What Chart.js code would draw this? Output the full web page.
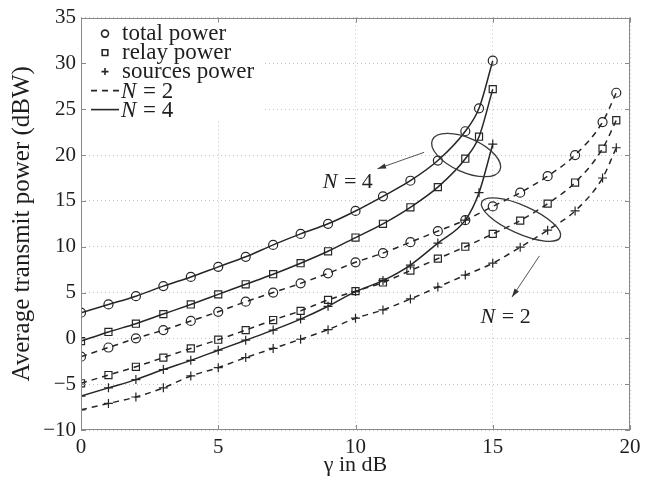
<!DOCTYPE html>
<html>
<head>
<meta charset="utf-8">
<script src="https://cdn.jsdelivr.net/npm/chart.js@4.4.1/dist/chart.umd.min.js"></script>
<style>
    html, body { margin: 0; padding: 0; background: #fff; }
    #wrap { width: 656px; height: 479px; }
</style>
</head>
<body>
<div id="wrap"><canvas id="powerChart" width="656" height="479"></canvas></div>
<script>
// -------------------------------------------------------------------------- Data

const gammaN4 = [0, 1, 2, 3, 4, 5, 6, 7, 8, 9, 10, 11, 12, 13, 14, 14.5, 15]
const totalN4 = [2.8, 3.7, 4.6, 5.7, 6.7, 7.8, 8.9, 10.2, 11.4, 12.5, 13.9, 15.5, 17.2, 19.4, 22.6, 25.1, 30.3]
const relayN4 = [-0.3, 0.7, 1.6, 2.65, 3.7, 4.8, 5.9, 7.0, 8.2, 9.5, 11.0, 12.5, 14.3, 16.5, 19.6, 22.0, 27.2]
const sourcesN4 = [-6.3, -5.4, -4.5, -3.4, -2.4, -1.3, -0.2, 0.9, 2.1, 3.5, 5.1, 6.3, 8.0, 10.4, 12.9, 15.9, 21.2]

const gammaN2 = [0, 1, 2, 3, 4, 5, 6, 7, 8, 9, 10, 11, 12, 13, 14, 15, 16, 17, 18, 19, 19.5]
const totalN2 = [-2.0, -1.0, 0.0, 0.9, 1.9, 2.9, 4.0, 5.0, 6.0, 7.1, 8.3, 9.3, 10.5, 11.7, 12.9, 14.4, 15.9, 17.7, 20.0, 23.6, 26.8]
const relayN2 = [-4.9, -4.0, -3.1, -2.1, -1.1, -0.15, 0.9, 2.0, 3.0, 4.2, 5.15, 6.1, 7.4, 8.7, 10.0, 11.4, 12.85, 14.7, 17.0, 20.7, 23.8]
const sourcesN2 = [-7.8, -7.1, -6.4, -5.4, -4.1, -3.2, -2.1, -1.1, -0.1, 0.95, 2.2, 3.1, 4.3, 5.6, 6.9, 8.2, 9.95, 11.8, 13.9, 17.5, 20.8]

const xTicks = [0, 5, 10, 15, 20]
const yTicks = [-10, -5, 0, 5, 10, 15, 20, 25, 30, 35]

const legendLabels = ['total power', 'relay power', 'sources power', 'N = 2', 'N = 4']
const xTitle = 'γ in dB'
const yTitle = 'Average transmit power (dBW)'

// -------------------------------------------------------------------------- Styles

const ink = '#262626'
const serif = "'Liberation Serif', 'DejaVu Serif', serif"
const dashed = [6, 5]

const markers = {
    total: { pointStyle: 'circle', radius: 4.5 },
    relay: { pointStyle: 'rect', radius: 5 },
    sources: { pointStyle: 'cross', radius: 4.5 }
}

function toPoints(xs, ys) {
    return xs.map((x, i) => ({ x: x, y: ys[i] }))
}

function series(label, xs, ys, marker, isDashed) {
    return {
        label: label,
        data: toPoints(xs, ys),
        borderColor: ink,
        borderWidth: 1.5,
        borderDash: isDashed ? dashed : [],
        cubicInterpolationMode: 'monotone',
        pointStyle: marker.pointStyle,
        pointRadius: marker.radius,
        pointBorderColor: ink,
        pointBorderWidth: 1.2,
        pointBackgroundColor: 'rgba(0,0,0,0)',
        fill: false
    }
}

// -------------------------------------------------------------------------- Callouts (ellipse + arrow + text)

const callouts = [
    { text: 'N = 4', centre: [14.03, 20.0], rx: 37, ry: 17, rot: 0.42, from: [12.5, 20.3], to: [10.8, 18.5], at: [9.7, 17.0] },
    { text: 'N = 2', centre: [16.03, 12.96], rx: 43, ry: 14, rot: 0.42, from: [16.7, 9.0], to: [15.7, 4.5], at: [15.45, 2.3] }
]

function drawNLabel(ctx, text, x, y, size, align) {
    // italic N, upright rest
    const head = text.charAt(0)
    const rest = text.slice(1)
    ctx.font = 'italic ' + size + 'px ' + serif
    const w1 = ctx.measureText(head).width
    ctx.font = size + 'px ' + serif
    const w2 = ctx.measureText(rest).width
    let x0 = align === 'center' ? x - (w1 + w2) / 2 : x
    ctx.textAlign = 'left'
    ctx.textBaseline = 'middle'
    ctx.font = 'italic ' + size + 'px ' + serif
    ctx.fillText(head, x0, y)
    ctx.font = size + 'px ' + serif
    ctx.fillText(rest, x0 + w1 + 1, y)
}

const calloutPlugin = {
    id: 'callouts',
    afterDatasetsDraw(chart) {
        const ctx = chart.ctx
        const sx = chart.scales.x
        const sy = chart.scales.y
        ctx.save()
        callouts.forEach(c => {
            const cx = sx.getPixelForValue(c.centre[0])
            const cy = sy.getPixelForValue(c.centre[1])
            ctx.strokeStyle = '#3a3a3a'
            ctx.lineWidth = 1.3
            ctx.setLineDash([])
            ctx.beginPath()
            ctx.ellipse(cx, cy, c.rx, c.ry, c.rot, 0, Math.PI * 2)
            ctx.stroke()

            const x1 = sx.getPixelForValue(c.from[0]), y1 = sy.getPixelForValue(c.from[1])
            const x2 = sx.getPixelForValue(c.to[0]), y2 = sy.getPixelForValue(c.to[1])
            ctx.strokeStyle = '#555'
            ctx.lineWidth = 1
            ctx.beginPath()
            ctx.moveTo(x1, y1)
            ctx.lineTo(x2, y2)
            ctx.stroke()
            const ang = Math.atan2(y2 - y1, x2 - x1)
            ctx.fillStyle = '#333'
            ctx.beginPath()
            ctx.moveTo(x2, y2)
            ctx.lineTo(x2 - 9 * Math.cos(ang - 0.3), y2 - 9 * Math.sin(ang - 0.3))
            ctx.lineTo(x2 - 9 * Math.cos(ang + 0.3), y2 - 9 * Math.sin(ang + 0.3))
            ctx.closePath()
            ctx.fill()

            ctx.fillStyle = '#222'
            drawNLabel(ctx, c.text, sx.getPixelForValue(c.at[0]), sy.getPixelForValue(c.at[1]), 22, 'center')
        })
        ctx.restore()
    }
}

// -------------------------------------------------------------------------- Box, inner ticks and legend

const boxPlugin = {
    id: 'axesBox',
    beforeDatasetsDraw(chart) {
        // white legend background hides the grid behind it
        const ctx = chart.ctx, a = chart.chartArea
        ctx.save()
        ctx.fillStyle = '#fff'
        ctx.fillRect(a.left + 1, a.top + 1, 182, 100)
        ctx.restore()
    },
    afterDatasetsDraw(chart) {
        const ctx = chart.ctx, a = chart.chartArea
        const sx = chart.scales.x, sy = chart.scales.y
        ctx.save()
        ctx.strokeStyle = '#8a8a8a'
        ctx.lineWidth = 1
        ctx.setLineDash([])
        ctx.strokeRect(Math.round(a.left) + 0.5, Math.round(a.top) + 0.5, Math.round(a.width) - 1, Math.round(a.height) - 1)
        ctx.beginPath()
        xTicks.forEach(v => {
            const p = Math.round(sx.getPixelForValue(v)) + 0.5
            ctx.moveTo(p, a.bottom); ctx.lineTo(p, a.bottom - 5)
            ctx.moveTo(p, a.top); ctx.lineTo(p, a.top + 5)
        })
        yTicks.forEach(v => {
            const p = Math.round(sy.getPixelForValue(v)) + 0.5
            ctx.moveTo(a.left, p); ctx.lineTo(a.left + 5, p)
            ctx.moveTo(a.right, p); ctx.lineTo(a.right - 5, p)
        })
        ctx.stroke()

        // legend
        const styles = [markers.total, markers.relay, markers.sources]
        legendLabels.forEach((label, i) => {
            const y = a.top + 16 + i * 19
            const mx = a.left + 24
            ctx.strokeStyle = ink
            if (i < 3) {
                ctx.lineWidth = 1.6
                ctx.setLineDash([])
                ctx.fillStyle = 'rgba(0,0,0,0)'
                Chart.helpers.drawPoint(ctx, { pointStyle: styles[i].pointStyle, radius: styles[i].radius - 1, rotation: 0, borderWidth: 1.6 }, mx, y)
            } else {
                ctx.lineWidth = 1.6
                ctx.setLineDash(i === 3 ? dashed : [])
                ctx.beginPath()
                ctx.moveTo(a.left + 10, y)
                ctx.lineTo(a.left + 38, y)
                ctx.stroke()
                ctx.setLineDash([])
            }
            ctx.fillStyle = '#1e1e1e'
            if (label.charAt(0) === 'N') {
                drawNLabel(ctx, label, a.left + 40, y + 1, 23, 'left')
            } else {
                ctx.font = '23px ' + serif
                ctx.textAlign = 'left'
                ctx.textBaseline = 'middle'
                ctx.fillText(label, a.left + 41, y)
            }
        })
        ctx.restore()
    }
}

// -------------------------------------------------------------------------- Chart config

const dataPowerChart = {
    datasets: [
        series('total power N=4', gammaN4, totalN4, markers.total, false),
        series('relay power N=4', gammaN4, relayN4, markers.relay, false),
        series('sources power N=4', gammaN4, sourcesN4, markers.sources, false),
        series('total power N=2', gammaN2, totalN2, markers.total, true),
        series('relay power N=2', gammaN2, relayN2, markers.relay, true),
        series('sources power N=2', gammaN2, sourcesN2, markers.sources, true)
    ]
}

const gridStyle = { color: '#c4c4c4', lineWidth: 1, drawTicks: false }
const minusSign = v => String(v).replace('-', '\u2212')

const configPowerChart = {
    type: 'line',
    data: dataPowerChart,
    options: {
        responsive: false,
        animation: false,
        devicePixelRatio: 1,
        layout: { padding: { top: 17, right: 26, left: 0, bottom: 0 } },
        plugins: {
            legend: { display: false },
            tooltip: { enabled: false }
        },
        scales: {
            x: {
                type: 'linear',
                min: 0,
                max: 20,
                afterBuildTicks: scale => { scale.ticks = xTicks.map(v => ({ value: v })) },
                afterFit: scale => { scale.height = 49 },
                grid: gridStyle,
                border: { display: false, dash: [1, 3] },
                ticks: { color: '#1e1e1e', padding: 5, font: { family: serif, size: 21 }, maxRotation: 0, callback: minusSign },
                title: { display: true, text: xTitle, color: '#1e1e1e', font: { family: serif, size: 22 }, padding: { top: 0, bottom: 1 } }
            },
            y: {
                min: -10,
                max: 35,
                afterBuildTicks: scale => { scale.ticks = yTicks.map(v => ({ value: v })) },
                afterFit: scale => { scale.width = 81 },
                grid: gridStyle,
                border: { display: false, dash: [1, 3] },
                ticks: { color: '#1e1e1e', padding: 5, font: { family: serif, size: 21 }, callback: minusSign },
                title: { display: true, text: yTitle, color: '#1e1e1e', font: { family: serif, size: 25 }, padding: { top: 7, bottom: 0 } }
            }
        }
    },
    plugins: [boxPlugin, calloutPlugin]
}

// -------------------------------------------------------------------------- Render

let powerChart = new Chart(
    document.getElementById('powerChart'),
    configPowerChart
)
</script>
</body>
</html>
